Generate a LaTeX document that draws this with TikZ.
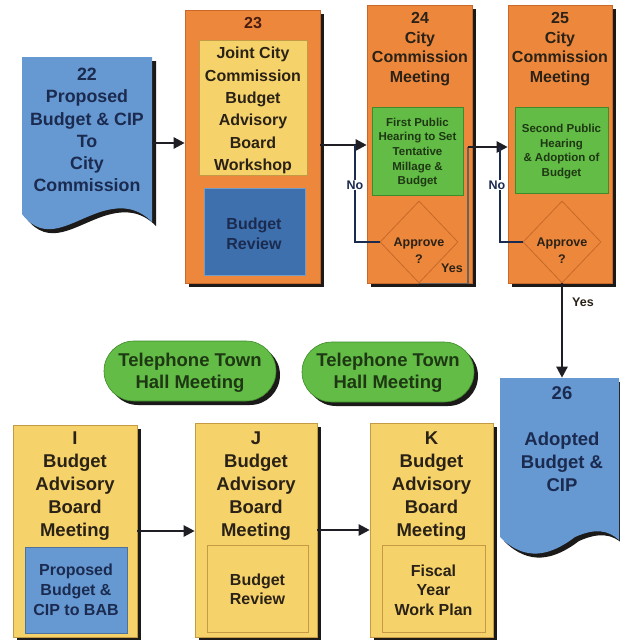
\documentclass[tikz,border=0pt]{standalone}
\usepackage{fontspec}
\setmainfont{Liberation Sans}
\usetikzlibrary{shapes.geometric,shapes.misc,shadows,arrows.meta}
\definecolor{orangec}{HTML}{EC873C}
\definecolor{orangeln}{HTML}{C8692A}
\definecolor{bluedoc}{HTML}{6698D2}
\definecolor{bluedark}{HTML}{3E70AE}
\definecolor{yellowc}{HTML}{F5D36A}
\definecolor{yellowln}{HTML}{C49A45}
\definecolor{greenc}{HTML}{62BC45}
\definecolor{greenln}{HTML}{3F8A2C}
\definecolor{shadowc}{HTML}{1C1A18}
\definecolor{txtbrown}{HTML}{2B2217}
\definecolor{txtred}{HTML}{4A1C10}
\definecolor{txtnavy}{HTML}{1B2B50}
\definecolor{txtgreen}{HTML}{1E3814}
\definecolor{linec}{HTML}{1E1E24}
\definecolor{yesc}{HTML}{6A625A}
\newcommand{\fhd}{\fontsize{16}{20}\selectfont\bfseries}
\newcommand{\fbig}{\fontsize{18.5}{23}\selectfont\bfseries}
\newcommand{\fsm}{\fontsize{11.5}{14.6}\selectfont\bfseries}
\newcommand{\fap}{\fontsize{12.5}{17}\selectfont\bfseries}
\begin{document}
\begin{tikzpicture}[x=1pt,y=-1pt,
  shad/.style={drop shadow={shadow xshift=4pt,shadow yshift=-4pt,fill=shadowc,opacity=1}},
  box/.style={shape=rectangle,inner sep=0pt,line width=0.6pt},
  obox/.style={box,fill=orangec,draw=orangeln,shad},
  ybox/.style={box,fill=yellowc,draw=yellowln,shad},
  yin/.style={box,fill=yellowc,draw=yellowln,line width=1pt},
  bin/.style={box,fill=bluedark,draw=bluedark!70!white},
  lbin/.style={box,fill=bluedoc,draw=bluedoc!75!black},
  gin/.style={box,fill=greenc,draw=greenln},
  dia/.style={shape=diamond,draw=orangeln,line width=0.8pt,inner sep=0pt,minimum width=78pt,minimum height=82pt},
  oval/.style={shape=rounded rectangle,fill=greenc,draw=greenln,line width=0.6pt,shad,minimum width=172pt,minimum height=60pt,inner sep=0pt},
  lab/.style={align=center,text=txtbrown,inner sep=0pt},
  arr/.style={draw=linec,line width=2.4pt,-{Triangle[length=11pt,width=11pt]}},
  noln/.style={draw=txtnavy,line width=2.2pt},
  yesln/.style={draw=yesc,line width=1.6pt},
  nolab/.style={lab,text=txtnavy,font=\fap,fill=white,inner sep=1pt}
]
\useasboundingbox (0,0) rectangle (619,640);
% ---------- document 22
\begin{scope}[shift={(4,4)}]
\fill[shadowc] (22,57) -- (152,57) -- (152,222) .. controls (140,210) and (125,204) .. (100,212) .. controls (70,222) and (45,244) .. (22,214) -- cycle;
\end{scope}
\fill[bluedoc] (22,57) -- (152,57) -- (152,222) .. controls (140,210) and (125,204) .. (100,212) .. controls (70,222) and (45,244) .. (22,214) -- cycle;
\node[box,minimum width=130pt,minimum height=172pt] (d22) at (87,143) {};
% ---------- document 26
\begin{scope}[shift={(4,4)}]
\fill[shadowc] (500,378) -- (619,378) -- (619,540) .. controls (608,530) and (595,528) .. (575,537) .. controls (550,556) and (525,562) .. (500,537) -- cycle;
\end{scope}
\fill[bluedoc] (500,378) -- (619,378) -- (619,540) .. controls (608,530) and (595,528) .. (575,537) .. controls (550,556) and (525,562) .. (500,537) -- cycle;
\node[box,minimum width=119pt,minimum height=158pt] (d26) at (559.5,457) {};
% ---------- boxes top row
\node[obox,minimum width=135pt,minimum height=273pt] (b23) at (252.5,146.5) {};
\node[yin,line width=0.8pt,minimum width=108pt,minimum height=135pt] (b23y) at (253,107.5) {};
\node[bin,minimum width=101pt,minimum height=87pt] (b23b) at (254.5,231.5) {};
\node[obox,minimum width=105pt,minimum height=278pt] (b24) at (419.5,144) {};
\node[gin,minimum width=91pt,minimum height=88pt] (g24) at (417.5,151) {};
\node[dia] (dia24) at (419,242) {};
\node[obox,minimum width=104pt,minimum height=278pt] (b25) at (560,144) {};
\node[gin,minimum width=93pt,minimum height=86pt] (g25) at (561.5,150) {};
\node[dia] (dia25) at (562,242) {};
% ---------- ovals
\node[oval] (ov1) at (190,371) {};
\node[oval] (ov2) at (388,372) {};
% ---------- bottom row
\node[ybox,minimum width=124pt,minimum height=212pt] (bI) at (75,531) {};
\node[lbin,minimum width=102pt,minimum height=86pt] (bIi) at (76,590) {};
\node[ybox,minimum width=122pt,minimum height=214pt] (bJ) at (256,530) {};
\node[yin,minimum width=101pt,minimum height=87pt] (bJi) at (257.5,588.5) {};
\node[ybox,minimum width=123pt,minimum height=214pt] (bK) at (431.5,530) {};
\node[yin,minimum width=103pt,minimum height=87pt] (bKi) at (433.5,588.5) {};
% ---------- connectors
\coordinate (n24) at (355,145);
\coordinate (j24) at (468,147);
\coordinate (n25) at (500,147);
\draw[arr] (d22.east) -- (d22.east -| b23.west);
\draw[arr] (b23.east |- n24) -- (n24 -| b24.west);
\draw[noln] (dia24.west) -| (n24);
\draw[yesln] (dia24.south) -| (j24);
\draw[arr] (j24) -- (j24 -| b25.west);
\draw[noln] (dia25.west) -| (n25);
\draw[arr] (dia25.south) -- (dia25.south |- d26.north);
\draw[arr] (bI.east) -- (bI.east -| bJ.west);
\draw[arr] (bJ.east) -- (bJ.east -| bK.west);
% ---------- texts
\node[lab,text=txtnavy,font=\fontsize{17.8}{22.2}\selectfont\bfseries] (t22) at (87,130) {22\\Proposed\\Budget \& CIP\\To\\City\\Commission};
\node[lab,text=txtred,font=\fhd] (t23n) at (253,23) {23};
\node[lab,font=\fontsize{16}{22.4}\selectfont\bfseries] (t23) at (253,110.5) {Joint City\\Commission\\Budget\\Advisory\\Board\\Workshop};
\node[lab,text=txtnavy,font=\fhd] (t23r) at (254,234) {Budget\\Review};
\node[lab,font=\fontsize{16}{19.7}\selectfont\bfseries] (t24) at (420,49) {24\\City\\Commission\\Meeting};
\node[lab,text=txtgreen,font=\fsm] (tg24) at (417.5,152.5) {First Public\\Hearing to Set\\Tentative\\Millage \&\\Budget};
\node[lab,font=\fap] (ta24) at (419,251) {Approve\\?};
\node[lab,font=\fap] (ty24) at (452,268) {Yes};
\node[nolab] (tn24) at (355,185) {No};
\node[lab,font=\fontsize{16}{19.7}\selectfont\bfseries] (t25) at (560,49) {25\\City\\Commission\\Meeting};
\node[lab,text=txtgreen,font=\fsm] (tg25) at (561.5,151.5) {Second Public\\Hearing\\\& Adoption of\\Budget};
\node[lab,font=\fap] (ta25) at (562,251) {Approve\\?};
\node[nolab] (tn25) at (497,185) {No};
\node[lab,font=\fap] (ty25) at (583,302) {Yes};
\node[lab,text=txtgreen,font=\fontsize{18.5}{22}\selectfont\bfseries] (tov1) at (190,373) {Telephone Town\\Hall Meeting};
\node[lab,text=txtgreen,font=\fontsize{18.5}{22}\selectfont\bfseries] (tov2) at (388,373) {Telephone Town\\Hall Meeting};
\node[lab,text=txtnavy,font=\fbig] (t26n) at (562,393) {26};
\node[lab,text=txtnavy,font=\fbig] (t26) at (562,462) {Adopted\\Budget \&\\CIP};
\node[lab,font=\fbig] (tI) at (75,486) {I\\Budget\\Advisory\\Board\\Meeting};
\node[lab,font=\fbig] (tJ) at (256,486) {J\\Budget\\Advisory\\Board\\Meeting};
\node[lab,font=\fbig] (tK) at (431.5,486) {K\\Budget\\Advisory\\Board\\Meeting};
\node[lab,text=txtnavy,font=\fhd] (tIi) at (76,590) {Proposed\\Budget \&\\CIP to BAB};
\node[lab,font=\fontsize{16}{19}\selectfont\bfseries] (tJi) at (257.5,589) {Budget\\Review};
\node[lab,font=\fontsize{16}{19.5}\selectfont\bfseries] (tKi) at (433.5,590) {Fiscal\\Year\\Work Plan};
\end{tikzpicture}
\end{document}
